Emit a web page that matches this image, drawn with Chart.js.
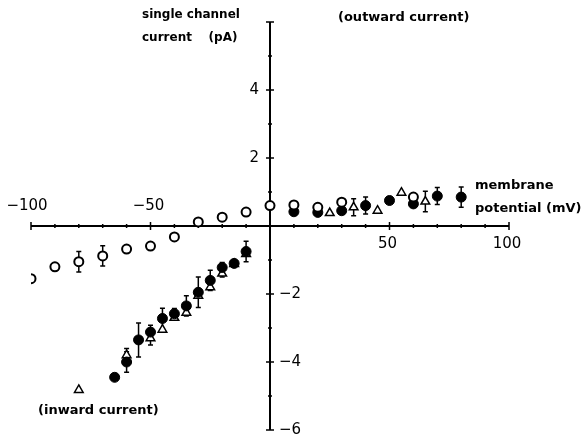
<!DOCTYPE html>
<html>
<head>
<meta charset="utf-8">
<script src="https://cdn.jsdelivr.net/npm/chart.js@4/dist/chart.umd.min.js"></script>
<style>
  html, body { margin: 0; padding: 0; background: #fff; }
  #wrap { width: 584px; height: 438px; }
</style>
</head>
<body>
<div id="wrap"><canvas id="ivChart" width="584" height="438"></canvas></div>
<script>
// 数据：膜电位 (mV) 与单通道电流 (pA)
const openX   = [-100, -90, -80, -70, -60, -50, -40, -30, -20, -10, 0, 10, 20, 30, 60];
const openY   = [-1.55, -1.2, -1.05, -0.88, -0.68, -0.59, -0.32, 0.12, 0.26, 0.41, 0.6, 0.62, 0.55, 0.7, 0.85];
const openErr = [0, 0, 0.3, 0.3, 0, 0, 0, 0, 0, 0, 0, 0, 0, 0, 0];

const filledX   = [-65, -60, -55, -50, -45, -40, -35, -30, -25, -20, -15, -10, 10, 20, 30, 40, 50, 60, 70, 80];
const filledY   = [-4.45, -4.0, -3.35, -3.12, -2.72, -2.58, -2.35, -1.95, -1.6, -1.22, -1.1, -0.75, 0.42, 0.4, 0.45, 0.6, 0.75, 0.65, 0.88, 0.85];
const filledErr = [0, 0.3, 0.5, 0.2, 0.3, 0.15, 0.3, 0.45, 0.3, 0.15, 0, 0.3, 0, 0, 0, 0.25, 0, 0, 0.25, 0.3];

const triX   = [-80, -60, -50, -45, -40, -35, -30, -25, -20, -15, -10, 25, 35, 45, 55, 65];
const triY   = [-4.82, -3.8, -3.3, -3.05, -2.7, -2.55, -2.05, -1.8, -1.4, -1.12, -0.82, 0.38, 0.55, 0.45, 0.98, 0.72];
const triErr = [0, 0.2, 0.2, 0, 0, 0, 0, 0, 0.1, 0, 0, 0, 0.25, 0, 0, 0.3];

// 坐标轴刻度
const xMajor = [-100, -50, 50, 100];
const xMinor = [-90, -80, -70, -60, -40, -30, -20, -10, 10, 20, 30, 40, 60, 70, 80, 90];
const yMajor = [-6, -4, -2, 2, 4, 6];
const yMinor = [-5, -3, -1, 1, 3, 5];
const yLabels = [4, 2, -2, -4, -6];

const toPoints = (xs, ys) => xs.map((x, i) => ({ x: x, y: ys[i] }));
const errorsByDataset = [openErr, filledErr, triErr];

const FONT = '"DejaVu Sans", sans-serif';

// 画十字坐标轴、刻度、误差线和文字
const axesPlugin = {
  id: 'crossAxes',
  beforeDatasetsDraw(chart) {
    const ctx = chart.ctx;
    const xs = chart.scales.x, ys = chart.scales.y;
    const x0 = xs.getPixelForValue(0), y0 = ys.getPixelForValue(0);
    ctx.save();
    ctx.strokeStyle = '#000';
    ctx.fillStyle = '#000';
    ctx.lineWidth = 2;

    // 轴线
    ctx.beginPath();
    ctx.moveTo(xs.getPixelForValue(-100), y0);
    ctx.lineTo(xs.getPixelForValue(100), y0);
    ctx.moveTo(x0, ys.getPixelForValue(6));
    ctx.lineTo(x0, ys.getPixelForValue(-6));
    ctx.stroke();

    // 刻度线
    ctx.lineWidth = 1.5;
    ctx.beginPath();
    xMajor.forEach(v => {
      const px = xs.getPixelForValue(v);
      ctx.moveTo(px, y0 - 4); ctx.lineTo(px, y0 + 4);
    });
    xMinor.forEach(v => {
      const px = xs.getPixelForValue(v);
      ctx.moveTo(px, y0 - 2); ctx.lineTo(px, y0 + 2);
    });
    yMajor.forEach(v => {
      const py = ys.getPixelForValue(v);
      ctx.moveTo(x0 - 4, py); ctx.lineTo(x0 + 4, py);
    });
    yMinor.forEach(v => {
      const py = ys.getPixelForValue(v);
      ctx.moveTo(x0 - 2, py); ctx.lineTo(x0 + 2, py);
    });
    ctx.stroke();

    // 刻度标签
    ctx.font = '15px ' + FONT;
    ctx.textBaseline = 'middle';
    ctx.textAlign = 'center';
    xMajor.forEach(v => {
      const px = xs.getPixelForValue(v);
      const label = v < 0 ? '\u2212' + Math.abs(v) : String(v);
      const py = v < 0 ? y0 - 20 : y0 + 18;
      ctx.fillText(label, v === -100 ? px - 4 : px - 2, py);
    });
    yLabels.forEach(v => {
      const py = ys.getPixelForValue(v);
      if (v > 0) {
        ctx.textAlign = 'right';
        ctx.fillText(String(v), x0 - 11, py);
      } else {
        ctx.textAlign = 'left';
        ctx.fillText('\u2212' + Math.abs(v), x0 + 9, py);
      }
    });

    // 误差线
    ctx.lineWidth = 1.5;
    chart.data.datasets.forEach((ds, di) => {
      const meta = chart.getDatasetMeta(di);
      const errs = errorsByDataset[di];
      meta.data.forEach((pt, i) => {
        const e = errs[i];
        if (!e) return;
        const v = ds.data[i].y;
        const top = ys.getPixelForValue(v + e);
        const bot = ys.getPixelForValue(v - e);
        ctx.beginPath();
        ctx.moveTo(pt.x, top); ctx.lineTo(pt.x, bot);
        ctx.moveTo(pt.x - 2.5, top); ctx.lineTo(pt.x + 2.5, top);
        ctx.moveTo(pt.x - 2.5, bot); ctx.lineTo(pt.x + 2.5, bot);
        ctx.stroke();
      });
    });

    // 文字说明
    ctx.textAlign = 'left';
    ctx.textBaseline = 'middle';
    ctx.font = 'bold 12px ' + FONT;
    ctx.fillText('single channel', 142, 15);
    ctx.fillText('current    (pA)', 142, 38);
    ctx.font = 'bold 13px ' + FONT;
    ctx.fillText('(outward current)', 338, 18);
    ctx.fillText('membrane', 475, 186);
    ctx.fillText('potential (mV)', 475, 209);
    ctx.fillText('(inward current)', 38, 411);
    ctx.restore();
  }
};

new Chart(document.getElementById('ivChart').getContext('2d'), {
  type: 'scatter',
  data: {
    datasets: [
      {
        label: 'open',
        data: toPoints(openX, openY),
        pointStyle: 'circle',
        pointRadius: 4.5,
        pointBackgroundColor: '#fff',
        pointBorderColor: '#000',
        pointBorderWidth: 2
      },
      {
        label: 'filled',
        data: toPoints(filledX, filledY),
        pointStyle: 'circle',
        pointRadius: 5,
        pointBackgroundColor: '#000',
        pointBorderColor: '#000',
        pointBorderWidth: 1
      },
      {
        label: 'triangle',
        data: toPoints(triX, triY),
        pointStyle: 'triangle',
        pointRadius: 5,
        pointBackgroundColor: '#fff',
        pointBorderColor: '#000',
        pointBorderWidth: 1.5
      }
    ]
  },
  options: {
    responsive: false,
    animation: false,
    layout: { padding: { left: 31, right: 75, top: 22, bottom: 8 } },
    scales: {
      x: { type: 'linear', min: -100, max: 100, display: false },
      y: { type: 'linear', min: -6, max: 6, display: false }
    },
    plugins: {
      legend: { display: false },
      tooltip: { enabled: false }
    }
  },
  plugins: [axesPlugin]
});
</script>
</body>
</html>
